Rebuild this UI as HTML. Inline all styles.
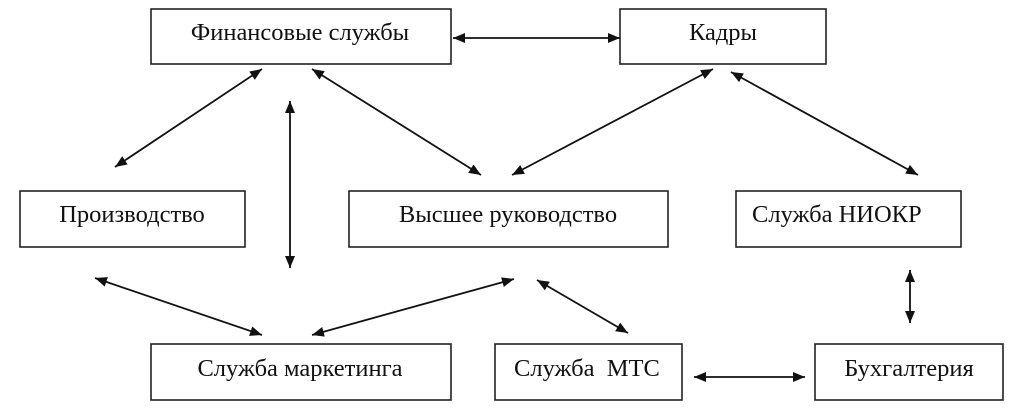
<!DOCTYPE html>
<html><head><meta charset="utf-8"><style>
html,body{margin:0;padding:0;background:#fff;}
svg{display:block}
text{font-family:"Liberation Serif",serif;font-size:24.5px;fill:#111}
rect{fill:#fff;stroke:#222;stroke-width:1.6}
line{stroke:#111;stroke-width:1.8}
</style></head><body>
<svg width="1020" height="416" viewBox="0 0 1020 416" xmlns="http://www.w3.org/2000/svg">
<defs>
<marker id="a" viewBox="0 0 12 10" refX="12" refY="5" markerWidth="12" markerHeight="10" markerUnits="userSpaceOnUse" orient="auto-start-reverse">
<path d="M0,0 L12,5 L0,10 z" fill="#111"/></marker>
</defs>
<rect x="151" y="9" width="300" height="55"/>
<text x="300" y="40" text-anchor="middle">Финансовые службы</text>
<rect x="620" y="9" width="206" height="55"/>
<text x="723" y="40" text-anchor="middle">Кадры</text>
<rect x="20" y="191" width="225" height="56"/>
<text x="132" y="222" text-anchor="middle">Производство</text>
<rect x="349" y="191" width="319" height="56"/>
<text x="508" y="222" text-anchor="middle">Высшее руководство</text>
<rect x="736" y="191" width="225" height="56"/>
<text x="752" y="222">Служба НИОКР</text>
<rect x="151" y="344" width="300" height="56"/>
<text x="300" y="376" text-anchor="middle">Служба маркетинга</text>
<rect x="495" y="344" width="187" height="56"/>
<text x="514" y="376" xml:space="preserve">Служба  МТС</text>
<rect x="815" y="344" width="188" height="56"/>
<text x="909" y="376" text-anchor="middle">Бухгалтерия</text>
<g marker-start="url(#a)" marker-end="url(#a)">
<line x1="453" y1="38" x2="620" y2="38"/>
<line x1="262" y1="69" x2="115" y2="167"/>
<line x1="290" y1="101" x2="290" y2="268"/>
<line x1="312" y1="69" x2="481" y2="175"/>
<line x1="713" y1="69" x2="512" y2="175"/>
<line x1="731" y1="72" x2="918" y2="175"/>
<line x1="95" y1="278" x2="262" y2="335"/>
<line x1="312" y1="335" x2="514" y2="279"/>
<line x1="537" y1="280" x2="628" y2="333"/>
<line x1="910" y1="270" x2="910" y2="323"/>
<line x1="694" y1="377" x2="805" y2="377"/>
</g>
</svg>
</body></html>
